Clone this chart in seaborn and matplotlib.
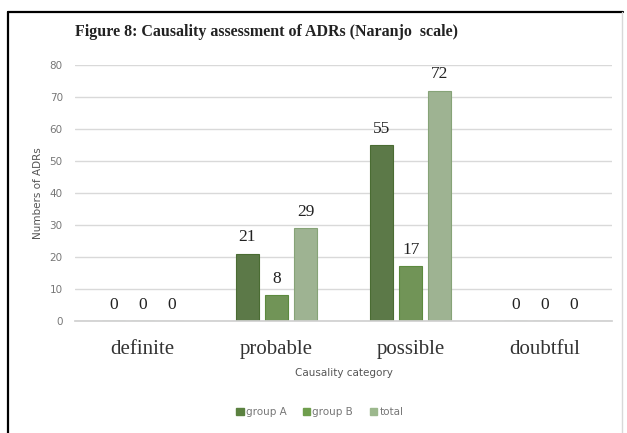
import matplotlib
matplotlib.use("Agg")
import matplotlib.pyplot as plt
from matplotlib.lines import Line2D
import seaborn as sns
import pandas as pd

categories = ["definite", "probable", "possible", "doubtful"]
groups = ["group A", "group B", "total"]
group_a = [0, 21, 55, 0]
group_b = [0, 8, 17, 0]
total = [0, 29, 72, 0]
y_ticks = [0, 10, 20, 30, 40, 50, 60, 70, 80]

colors = ["#5b8140", "#6f9e4d", "#9cb88d"]
edges = ["#4a6c33", "#5c8a3e", "#86a377"]

df = pd.DataFrame({
    "category": categories * 3,
    "group": [g for g in groups for _ in categories],
    "value": group_a + group_b + total,
})

sns.set_theme(style="white")
plt.rcParams["font.family"] = ["DejaVu Sans"]

fig = plt.figure(figsize=(6.27, 4.33), dpi=100)
ax = fig.add_axes([0.120, 0.259, 0.856, 0.591])

sns.barplot(data=df, x="category", y="value", hue="group", order=categories,
            hue_order=groups, palette=colors, width=0.65, gap=0.2,
            ax=ax, legend=False, linewidth=0.8)

for i, cont in enumerate(ax.containers):
    for bar in cont:
        bar.set_edgecolor(edges[i])
    ax.bar_label(cont, labels=[f"{int(v)}" for v in cont.datavalues],
                 padding=6, fontsize=12.5, family="Liberation Serif",
                 color="#222222")

ax.set_ylim(0, 80)
ax.set_yticks(y_ticks)
ax.set_yticklabels([str(t) for t in y_ticks], fontsize=7.5, color="#777777")
ax.set_xlim(-0.5, 3.5)
ax.grid(axis="y", color="#d9d9d9", linewidth=1)
ax.set_axisbelow(True)
for s in ["top", "right", "left"]:
    ax.spines[s].set_visible(False)
ax.spines["bottom"].set_color("#d0d0d0")
ax.tick_params(axis="y", length=0, pad=9)
ax.tick_params(axis="x", length=0, pad=14)
for lbl in ax.get_xticklabels():
    lbl.set_fontfamily("Liberation Serif")
    lbl.set_fontsize(15)
    lbl.set_color("#333333")

ax.set_ylabel("Numbers of ADRs", fontsize=7.5, color="#555555", labelpad=5)
ax.set_xlabel("Causality category", fontsize=7.5, color="#555555", labelpad=6)

fig.text(0.425, 0.925, "Figure 8: Causality assessment of ADRs (Naranjo  scale)",
         ha="center", va="center", fontsize=11.5, fontweight="bold",
         family="Liberation Serif", color="#222222")

handles = [plt.Rectangle((0, 0), 1, 1, facecolor=c, edgecolor=c) for c in colors]
fig.legend(handles, groups, loc="center", bbox_to_anchor=(0.51, 0.048),
           ncol=3, frameon=False, fontsize=7.5, handlelength=0.7,
           handleheight=0.7, handletextpad=0.2, columnspacing=1.6,
           labelcolor="#777777")

# frame around the figure
fig.add_artist(Line2D([0.013, 0.013], [0.0, 0.972], color="black", linewidth=1.6,
                      transform=fig.transFigure))
fig.add_artist(Line2D([0.013, 0.993], [0.972, 0.972], color="black", linewidth=1.6,
                      transform=fig.transFigure))
fig.add_artist(Line2D([0.992, 0.992], [0.0, 0.972], color="#d8d8d8", linewidth=1,
                      transform=fig.transFigure))

fig.savefig("out.png", dpi=100)
